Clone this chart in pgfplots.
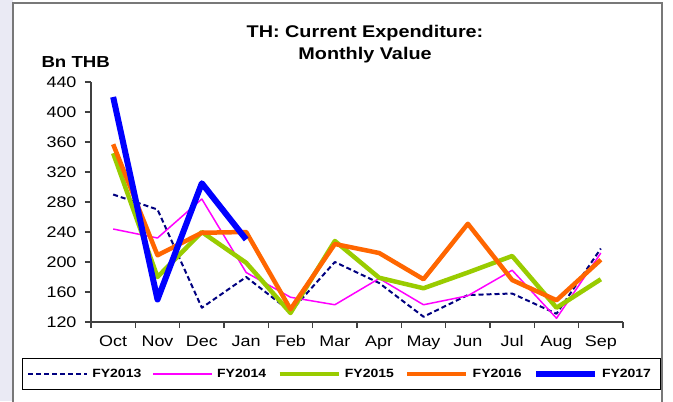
\documentclass[border=0pt]{standalone}
\usepackage{fontspec}
\setmainfont{Liberation Sans}[FakeStretch=1.17]
\usepackage{pgfplots}
\pgfplotsset{compat=1.18}
\usepackage{pgfplotstable}

\definecolor{fynavy}{RGB}{0,0,128}
\definecolor{fymag}{RGB}{255,0,255}
\definecolor{fygreen}{RGB}{153,204,0}
\definecolor{fyorange}{RGB}{255,102,0}
\definecolor{fyblue}{RGB}{0,0,255}
\definecolor{strip}{RGB}{234,234,244}
\definecolor{framegray}{RGB}{120,120,120}

% monthly current expenditure, Bn THB (Oct=0 ... Sep=11)
\pgfplotstableread{
m  a13  a14  a15  a16  a17
0  290  244  345  357  420
1  270  232  180  209  150
2  139  284  240  239  305
3  180  186  199  240  230
4  134  153  132  137  nan
5  200  143  228  224  nan
6  172  178  179  212  nan
7  127  143  165  177  nan
8  156  155  186  251  nan
9  158  189  208  176  nan
10 131  125  139  149  nan
11 218  212  177  203  nan
}\expdata

\begin{document}
\begin{tikzpicture}[x=1bp,y=1bp]
% origin = south west corner of the axis box
\useasboundingbox (-91,-79) rectangle (582,322);
\fill[strip] (-91,-79) rectangle (-78,322);
\fill[white] (-78,-79) rectangle (582,322);
\draw[framegray, line width=1.5bp] (-78,-90) -- (-78,319) -- (571,319) -- (571,-90);

\node[anchor=base, font=\fontsize{17}{20}\selectfont\bfseries] at (274,285) {TH: Current Expenditure:};
\node[anchor=base, font=\fontsize{17}{20}\selectfont\bfseries] at (274,263) {Monthly Value};
\node[anchor=base west, font=\fontsize{16}{19}\selectfont\bfseries] at (-53,255) {Bn THB};

\begin{axis}[
  scale only axis, width=532bp, height=240bp,
  xmin=-0.5, xmax=11.5, ymin=120, ymax=440,
  axis lines=left,
  axis line style={-, black!75, line width=1.2bp},
  xtick={0,...,11},
  xticklabels={Oct,Nov,Dec,Jan,Feb,Mar,Apr,May,Jun,Jul,Aug,Sep},
  minor xtick={-0.5,0.5,...,11.5},
  ytick={120,160,...,440},
  tick align=outside,
  major tick length=6bp, minor tick length=6bp,
  major x tick style={draw=none},
  tick style={black!75, line width=1.2bp},
  /pgf/number format/assume math mode=true,
  ticklabel style={font=\fontsize{15.4}{18}\selectfont},
  x tick label style={yshift=-4bp},
  y tick label style={xshift=-5bp},
  clip=false,
  every axis plot/.append style={line join=round},
  legend columns=5,
  legend style={
    at={(axis description cs:-0.130,-0.15)}, anchor=north west,
    draw=black, line width=1bp,
    inner xsep=5bp, inner ysep=8.5bp,
    font=\fontsize{12}{14}\selectfont\bfseries,
    nodes={inner xsep=4bp},
    /tikz/every even column/.append style={column sep=7.3bp},
  },
  legend cell align=left,
  legend image code/.code={\draw[#1] (0bp,0bp) -- (59bp,0bp);},
]
\addplot[draw=fynavy, line width=2bp, dash pattern=on 5bp off 3bp] table[x=m,y=a13] {\expdata};
\addlegendentry{FY2013}
\addplot[draw=fymag, line width=1.5bp] table[x=m,y=a14] {\expdata};
\addlegendentry{FY2014}
\addplot[draw=fygreen, line width=4.5bp] table[x=m,y=a15] {\expdata};
\addlegendentry{FY2015}
\addplot[draw=fyorange, line width=4.5bp] table[x=m,y=a16] {\expdata};
\addlegendentry{FY2016}
\addplot[draw=fyblue, line width=6bp] table[x=m,y=a17] {\expdata};
\addlegendentry{FY2017}
\end{axis}
\end{tikzpicture}
\end{document}
